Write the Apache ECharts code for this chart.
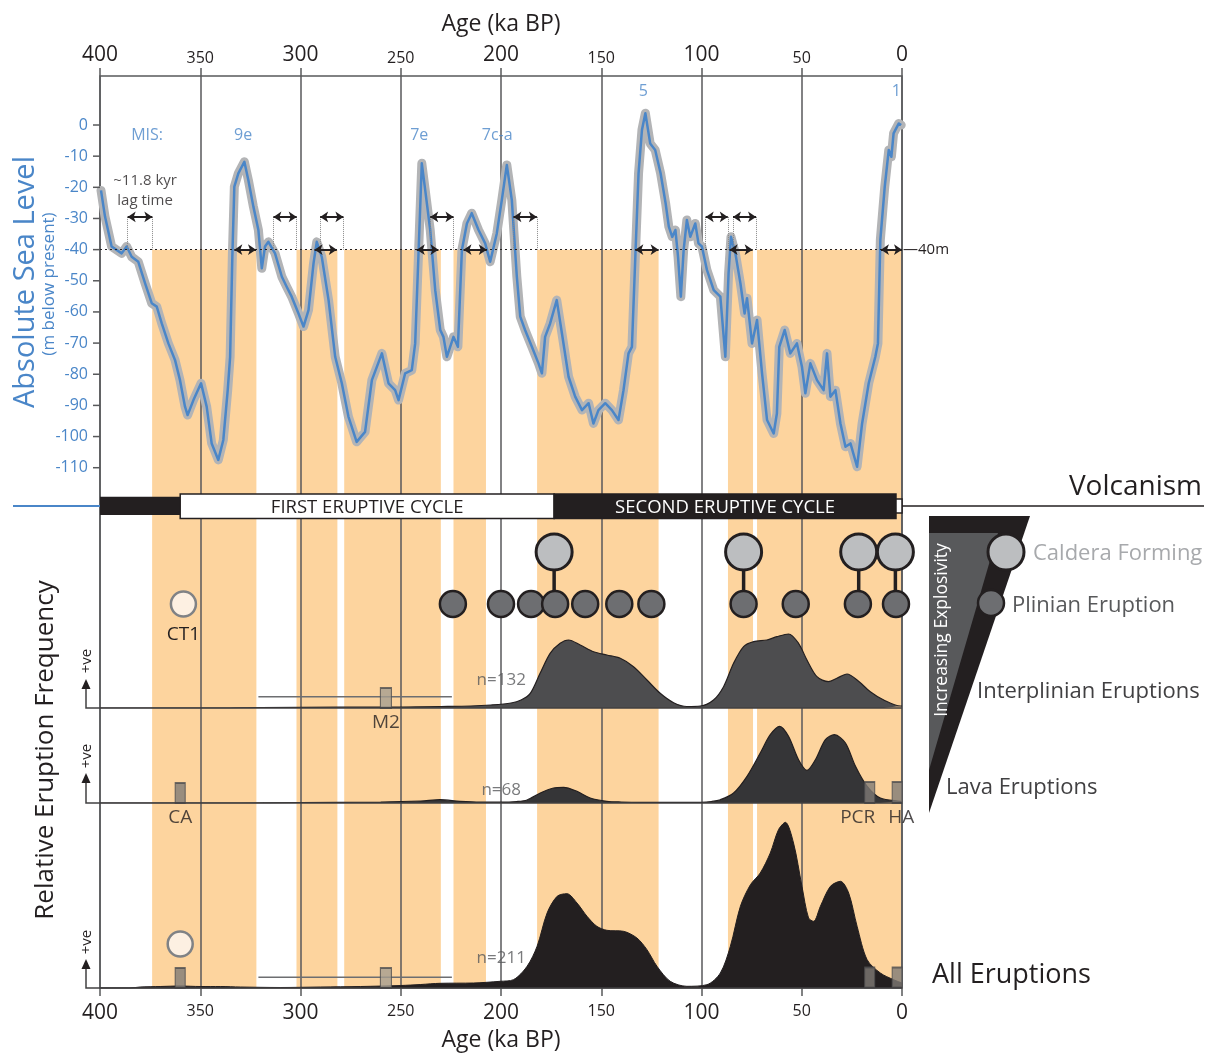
<!DOCTYPE html>
<html><head><meta charset="utf-8">
<script src="https://cdn.jsdelivr.net/npm/echarts@6/dist/echarts.min.js"></script>
<style>html,body{margin:0;padding:0;background:#fff}#c{width:1214px;height:1053px}</style>
</head><body><div id="c"></div>
<script>
// ---------- DATA ----------
const ageTicks = [0, 50, 100, 150, 200, 250, 300, 350, 400];
const seaTicks = [0, -10, -20, -30, -40, -50, -60, -70, -80, -90, -100, -110];

const seaAge = [399.5,397.5,394.2,389.2,386.7,384.2,380.9,377.5,374.2,371.7,369.2,365.9,362.6,360.1,357.6,356.3,353.4,349.6,346.8,344.3,341,338.5,336.3,335.1,334,333,331,328,326,323.5,321,319.3,317.7,316,312.7,309.3,306.9,304.4,301,298.5,296,293.5,291.9,289.4,286,282.7,279.4,276.1,272,267.8,264.4,259.4,256.1,252.8,251.1,247.8,244.5,242.8,241.2,239.5,237.8,235.3,232.8,230.3,228.7,227,223.7,221.5,219.5,217,214.6,211.2,207.9,205.4,202.1,199.6,197.1,194.6,192.1,190.4,188,184.6,181.3,179.6,178,175.5,172.2,169.6,166.3,163,159.6,156.3,153.9,151.4,148,144.7,141.4,138.9,136.4,134.7,133,131.4,129.7,128,125.6,123.1,120.4,117.9,116.3,114.6,113,111.7,110.3,108.9,107.3,105.6,103.1,101.5,99.8,97.3,93.9,90.6,88.1,86.5,85.3,83.1,80.6,78.5,77.3,74.8,72.3,69.8,67.3,64,62.4,61.2,58.5,55.7,52.4,49.9,48.2,45.7,42.4,39.1,37.4,35.7,33.2,30.7,28.2,25.7,22.4,19.9,16.6,13.3,12,10.8,8.6,6.6,5.3,4.2,1.6,0.4];
const seaLevel = [-21,-29.4,-39,-41.2,-39,-42.3,-43.9,-50.8,-57.2,-58.3,-63.7,-70.1,-75.4,-81.9,-90.4,-93.1,-88.3,-82.9,-90.4,-102.2,-107.5,-101.1,-85.1,-74.4,-42.3,-19.8,-15.5,-11.8,-17.7,-26.2,-33.7,-46,-39,-37.5,-41.2,-48.7,-51.9,-55.1,-60.5,-64.7,-59.4,-44.4,-37.5,-42.3,-56.2,-74.4,-82.9,-93.6,-101.7,-98.5,-81.9,-73.3,-82.9,-85.1,-88.3,-79.7,-78.7,-70.1,-42.3,-12.3,-20.9,-33.7,-53,-65.8,-68,-74.4,-68,-71.2,-40.1,-31.6,-28.3,-33.7,-38,-43.9,-34.8,-24.1,-12.8,-24.1,-48.7,-61.5,-65.8,-71.2,-76.5,-79.7,-68,-63.7,-56.2,-66.9,-80.8,-87.2,-91.5,-89.3,-95.8,-91.5,-89.3,-91.5,-94.7,-85.1,-73.3,-71.2,-42.3,-15.5,-1.6,3.8,-5.9,-8,-15.5,-25.1,-32.6,-35.9,-33.7,-42.3,-55.1,-40.1,-30.5,-35.9,-31.6,-38,-39,-46.5,-53,-55.1,-74.4,-47.6,-35.9,-41.2,-50.8,-60.5,-55.6,-70.1,-62.6,-79.7,-94.7,-99,-92.6,-71.2,-65.8,-73.3,-70.1,-77.6,-86.1,-76.5,-81.9,-85.1,-73.3,-87.2,-85.1,-95.8,-103.3,-102.2,-109.7,-95.8,-82.9,-74.4,-70.1,-36.9,-19.8,-8,-10.2,-2.7,0.5,0];

// low-stand (orange) periods [older, younger] ka
const bandOld   = [374, 302, 278.2, 223.7, 182, 86.8, 72.3];
const bandYoung = [322, 281.6, 230, 207.5, 121.4, 74.3, 0];
// ~11.8 kyr lag arrows
const upperArrowFrom = [386.2, 313.5, 290.2, 235.3, 193.8, 97.9, 84.3];
const upperArrowTo   = [373.9, 301.9, 278.6, 223.7, 182.1, 86.9, 72.8];
const lowerArrowFrom = [333, 293, 242, 218.7, 133, 86, 10.5];
const lowerArrowTo   = [322.2, 281.9, 231.2, 207.1, 121.4, 74.5, 0];
const threshold = -40;
const lagLevel = -29.5;

// MIS labels
const misName = ['MIS:', '9e', '7e', '7c-a', '5', '1'];
const misAge  = [376.5, 328.6, 240.8, 201.9, 129, 2.8];
const misLev  = [-3.2, -3.2, -3.2, -3.2, 10.9, 10.9];

// eruption frequency density curves (relative)
const dens132 = [[400,0],[340,0],[320,0.5],[280,0.8],[250,1],[230,1.5],[215,2],[205,3],[195,5],[190,8],[185.4,14.7],[180.5,34.7],[175.5,54.7],[170.5,64.7],[166.3,68],[160.5,63],[153.8,56.3],[147.2,53],[140.5,49.7],[133.9,41.3],[127.2,28],[120.6,14.7],[113.9,5.3],[107.3,1.5],[100.6,2],[94,8],[89,21.3],[84,44.7],[79,61.3],[74,66.3],[67.4,68],[62.4,71.3],[56.6,74],[51.6,64.7],[47.4,48],[42.4,31.3],[36.7,26.3],[32.5,29.7],[27.4,34],[22.4,28],[15.8,16.3],[9.1,8],[0.8,2],[0,2]];
const dens68 = [[400,0],[330,0],[300,0.5],[260,1],[240,2],[230.4,3.3],[220.4,1.7],[210,1],[200.4,1],[192,1.5],[187,3],[180.4,10],[173.8,15],[168.8,15.7],[162.1,11.7],[155.5,5],[147.2,1.7],[140,1],[130,0.7],[100,0.7],[95,1.5],[90.6,3.3],[84,10],[77.3,26.7],[70.7,50],[65.7,68.3],[61,76.7],[56.6,66.7],[51.6,43.3],[47.4,32.7],[43.2,43.3],[38.2,63.3],[33.7,68.3],[28.2,60],[23.2,36.7],[17.4,16.7],[10.8,5],[0.8,1.7],[0,1.5]];
const dens211 = [[400,0],[385,0],[380,1],[370,1.5],[360,2],[350,1.5],[340,1.5],[330,1],[310,0.5],[290,1],[270,1.5],[250,2.5],[240,3.5],[230.4,4.7],[213.7,5],[200.4,6.7],[193.8,8.3],[187,21.7],[182,41.7],[177,75],[172,91.7],[167.1,94.3],[162.1,85],[157.1,71.7],[152.2,61.7],[147.2,57.7],[138.9,56.7],[132.2,50],[127.2,38.3],[122.2,21.7],[115.6,6.7],[107.3,1.7],[97.3,3.3],[90.6,15],[85.6,41.7],[80.6,81.7],[75.6,103.3],[70.7,115],[65.7,135],[61.6,158.3],[58.2,165.7],[54.1,145],[49.9,101.7],[46.6,70],[44.1,66.7],[40.7,81.7],[35.7,101.7],[30.7,106.7],[26.6,95],[22.4,61.7],[17.4,28.3],[10.8,15],[4.2,8.3],[0,5]];

// eruptions
const plinianAge = [224, 200, 185, 173, 158, 141, 125, 79, 53, 22, 3];
const calderaAge = [173.5, 79, 21.6, 3.3];
const ct1Age = [358.4, 360];
const m2Age = 257.4, m2Old = 321, m2Young = 224.5;
const caAge = 360, pcrAge = 16.1, haAge = 2.4;

// eruptive cycles
const cycleStart = [400, 360, 173.5, 3];
const cycleEnd   = [360, 173.5, 3, 0];
const cycleKind  = [0, 1, 2, 3];
const cycleLabel = ['', 'FIRST ERUPTIVE CYCLE', 'SECOND ERUPTIVE CYCLE', ''];

// ---------- STYLE ----------
const FONT = 'Open Sans';
const BLUE = '#4a86c8';
const DARK = '#231f20';
const GRID = '#58595b';
const Y_MIN = -277, Y_MAX = 15.73;
const P1 = 104, C1 = 156; // plinian / caldera rows in panel 1
const FRAME_LEFT = 100;

const chart = echarts.init(document.getElementById('c'), null, {renderer: 'canvas'});

const hiddenX = (g) => ({gridIndex: g, type: 'value', inverse: true, min: 0, max: 400, show: false});
const hiddenY = (g, max) => ({gridIndex: g, type: 'value', min: 0, max: max, show: false});
const labelRich = {
  b: {fontSize: 21, color: DARK, fontFamily: FONT},
  s: {fontSize: 16, color: DARK, fontFamily: FONT}
};
const ageAxis = (pos) => ({
  gridIndex: 0, type: 'value', position: pos, inverse: true, min: 0, max: 400, interval: 50, z: 1,
  axisLine: {show: false, onZero: false},
  axisTick: {show: true, inside: false, length: 8, customValues: ageTicks, lineStyle: {color: GRID, width: 1.5}},
  axisLabel: {customValues: ageTicks, margin: pos === 'top' ? 10 : 15,
    formatter: v => (v % 100 === 0 ? '{b|' + v + '}' : '{s|' + v + '}'), rich: labelRich},
  splitLine: {show: pos === 'top', lineStyle: {color: GRID, width: 1.5}},
  name: 'Age (ka BP)', nameLocation: 'middle', nameGap: pos === 'top' ? 40 : 41,
  nameTextStyle: {fontSize: 23, color: DARK, fontFamily: FONT}
});

const seaData = seaAge.map((a, i) => [a, seaLevel[i]]);

const markLineData = [];
markLineData.push([
  {coord: [400, threshold], symbol: 'none', lineStyle: {type: [2, 3], color: DARK, width: 1},
   label: {show: true, position: 'end', formatter: '\u201440m', distance: 1, fontSize: 15, color: DARK, fontFamily: FONT}},
  {coord: [0, threshold], symbol: 'none'}
]);
upperArrowFrom.forEach((a, i) => {
  [a, upperArrowTo[i]].forEach(x => markLineData.push([
    {coord: [x, lagLevel], symbol: 'none', lineStyle: {type: 'dotted', color: '#8a8a8a', width: 1}},
    {coord: [x, threshold], symbol: 'none'}
  ]));
  markLineData.push([
    {coord: [a, lagLevel], symbol: 'arrow', lineStyle: {type: 'solid', color: DARK, width: 2}},
    {coord: [upperArrowTo[i], lagLevel], symbol: 'arrow'}
  ]);
});
lowerArrowFrom.forEach((a, i) => {
  markLineData.push([
    {coord: [a, threshold], symbol: 'arrow', lineStyle: {type: 'solid', color: DARK, width: 2}},
    {coord: [lowerArrowTo[i], threshold], symbol: 'arrow'}
  ]);
});

const rectStyle = (fill) => ({color: fill, borderColor: '#4d4d4f', borderWidth: 1.5});
const markerLabel = (txt, off) => ({show: true, position: 'bottom', distance: 4, formatter: txt,
  fontSize: 19, color: DARK, fontFamily: FONT, offset: off || [0, 0]});

const gridBase = {left: 100, width: 802, outerBoundsMode: 'none', containLabel: false};
const option = {
  animation: false,
  backgroundColor: '#fff',
  textStyle: {fontFamily: FONT},
  grid: [
    Object.assign({}, gridBase, {top: 76, height: 912, show: true, borderColor: GRID, borderWidth: 1.5, backgroundColor: 'transparent', z: 1}),
    Object.assign({}, gridBase, {top: 490, height: 218}),
    Object.assign({}, gridBase, {top: 710, height: 93}),
    Object.assign({}, gridBase, {top: 810, height: 178})
  ],
  xAxis: [ageAxis('top'), ageAxis('bottom'), hiddenX(1), hiddenX(2), hiddenX(3)],
  yAxis: [
    {gridIndex: 0, type: 'value', min: Y_MIN, max: Y_MAX, show: false},
    hiddenY(1, 218), hiddenY(2, 93), hiddenY(3, 178)
  ],
  series: [
    {type: 'line', name: 'bands', xAxisIndex: 0, yAxisIndex: 0, data: [], z: 0,
     markArea: {silent: true, z: 0, itemStyle: {color: '#fdd49e'},
       data: bandOld.map((o, i) => [{xAxis: o, yAxis: threshold}, {xAxis: bandYoung[i], yAxis: Y_MIN}])}},
    {type: 'line', name: 'seaErr', xAxisIndex: 0, yAxisIndex: 0, data: seaData, showSymbol: false, z: 2,
     lineStyle: {color: '#b3b4b6', width: 9, cap: 'round', join: 'round'}},
    {type: 'line', name: 'sea', xAxisIndex: 0, yAxisIndex: 0, data: seaData, showSymbol: false, z: 3,
     lineStyle: {color: BLUE, width: 2.5, join: 'round'},
     markLine: {silent: true, z: 5, symbolSize: [8, 8], label: {show: false}, data: markLineData}},
    {type: 'scatter', name: 'mis', xAxisIndex: 0, yAxisIndex: 0, symbolSize: 0, z: 6,
     data: misName.map((n, i) => ({name: n, value: [misAge[i], misLev[i]]})),
     label: {show: true, position: 'inside', formatter: p => p.name, color: BLUE, fontSize: 16, fontFamily: FONT}},
    {type: 'scatter', name: 'lag', xAxisIndex: 0, yAxisIndex: 0, symbolSize: 0, z: 6,
     data: [{name: '~11.8 kyr\nlag time', value: [377.5, -21]}],
     label: {show: true, position: 'inside', formatter: p => p.name, color: DARK, fontSize: 15, lineHeight: 20, fontFamily: FONT}},

    // density curves
    {type: 'line', name: 'n132', xAxisIndex: 2, yAxisIndex: 1, data: dens132, showSymbol: false, smooth: 0.3, z: 3,
     lineStyle: {color: DARK, width: 1.2}, areaStyle: {color: '#4d4d4f', opacity: 1}},
    {type: 'line', name: 'n68', xAxisIndex: 3, yAxisIndex: 2, data: dens68, showSymbol: false, smooth: 0.3, z: 3,
     lineStyle: {color: DARK, width: 1.2}, areaStyle: {color: '#353537', opacity: 1}},
    {type: 'line', name: 'n211', xAxisIndex: 4, yAxisIndex: 3, data: dens211, showSymbol: false, smooth: 0.3, z: 3,
     lineStyle: {color: DARK, width: 1}, areaStyle: {color: DARK, opacity: 1}},
    {type: 'scatter', name: 'nlab1', xAxisIndex: 2, yAxisIndex: 1, symbolSize: 0, z: 6,
     data: [{name: 'n=132', value: [199.9, 28]}],
     label: {show: true, position: 'inside', formatter: p => p.name, color: GRID, fontSize: 17, fontFamily: FONT}},
    {type: 'scatter', name: 'nlab2', xAxisIndex: 3, yAxisIndex: 2, symbolSize: 0, z: 6,
     data: [{name: 'n=68', value: [199.9, 13]}],
     label: {show: true, position: 'inside', formatter: p => p.name, color: GRID, fontSize: 17, fontFamily: FONT}},
    {type: 'scatter', name: 'nlab3', xAxisIndex: 4, yAxisIndex: 3, symbolSize: 0, z: 6,
     data: [{name: 'n=211', value: [199.9, 30]}],
     label: {show: true, position: 'inside', formatter: p => p.name, color: GRID, fontSize: 17, fontFamily: FONT}},

    // eruptive cycles bar
    {type: 'custom', name: 'cycles', xAxisIndex: 2, yAxisIndex: 1, z: 7, encode: {x: [0, 1], y: 2},
     data: cycleStart.map((s, i) => [s, cycleEnd[i], cycleKind[i]]),
     renderItem: (params, api) => {
       const kind = api.value(2);
       const ranges = [[193, 211.3], [189.5, 214], [189.5, 214], [195, 209]];
       const r = ranges[kind];
       const p1 = api.coord([api.value(0), r[1]]);
       const p2 = api.coord([api.value(1), r[0]]);
       const children = [{type: 'rect', shape: {x: p1[0], y: p1[1], width: p2[0] - p1[0], height: p2[1] - p1[1]},
         style: {fill: kind % 2 === 0 ? DARK : '#fff', stroke: kind === 0 ? null : DARK, lineWidth: kind === 0 ? 0 : 1.5}}];
       const lbl = cycleLabel[params.dataIndex];
       if (lbl) children.push({type: 'text', style: {text: lbl, x: (p1[0] + p2[0]) / 2, y: (p1[1] + p2[1]) / 2 + 1,
         align: 'center', verticalAlign: 'middle', fill: kind === 2 ? '#fff' : DARK, fontSize: 18.5, fontFamily: FONT}});
       return {type: 'group', children: children};
     }},

    // M2 age uncertainty bars
    {type: 'line', name: 'm2err1', xAxisIndex: 2, yAxisIndex: 1, data: [[m2Old, 11.3], [m2Young, 11.3]], showSymbol: false, z: 6,
     lineStyle: {color: '#6d6e71', width: 1.5}},
    {type: 'line', name: 'm2err3', xAxisIndex: 4, yAxisIndex: 3, data: [[m2Old, 10.7], [m2Young, 10.7]], showSymbol: false, z: 6,
     lineStyle: {color: '#6d6e71', width: 1.5}},

    // caldera-plinian connectors
    {type: 'custom', name: 'conn', xAxisIndex: 2, yAxisIndex: 1, z: 7, encode: {x: 0, y: 1},
     data: calderaAge.map(a => [a, P1]),
     renderItem: (params, api) => {
       const a = api.value(0);
       const q1 = api.coord([a, P1]), q2 = api.coord([a, C1]);
       return {type: 'line', shape: {x1: q1[0], y1: q1[1], x2: q2[0], y2: q2[1]}, style: {stroke: DARK, lineWidth: 3.5}};
     }},
    {type: 'scatter', name: 'plinian', xAxisIndex: 2, yAxisIndex: 1, z: 8, symbolSize: 26,
     data: plinianAge.map(a => [a, P1]),
     itemStyle: {color: '#6d6e71', borderColor: DARK, borderWidth: 2.5, opacity: 1}},
    {type: 'scatter', name: 'caldera', xAxisIndex: 2, yAxisIndex: 1, z: 8, symbolSize: 36,
     data: calderaAge.map(a => [a, C1]),
     itemStyle: {color: '#bcbec0', borderColor: DARK, borderWidth: 3, opacity: 1}},
    {type: 'scatter', name: 'ct1', xAxisIndex: 2, yAxisIndex: 1, z: 8, symbolSize: 25,
     data: [{value: [ct1Age[0], P1], label: markerLabel('CT1', [0, 3])}],
     itemStyle: {color: '#fdf0e2', borderColor: '#808285', borderWidth: 2.5, opacity: 1}},
    {type: 'scatter', name: 'm2a', xAxisIndex: 2, yAxisIndex: 1, z: 8, symbol: 'rect', symbolSize: [11, 20],
     data: [{value: [m2Age, 10], label: markerLabel('M2', [0, 0])}], itemStyle: rectStyle('#a59d90')},
    {type: 'scatter', name: 'lava2', xAxisIndex: 3, yAxisIndex: 2, z: 8, symbol: 'rect', symbolSize: [10, 20],
     data: [{value: [caAge, 10], label: markerLabel('CA')},
            {value: [pcrAge, 10.5], symbolSize: [10, 21], label: markerLabel('PCR', [-12, 0])},
            {value: [haAge, 10.5], symbolSize: [10, 21], label: markerLabel('HA', [4, 0])}],
     itemStyle: rectStyle('#807a76')},
    {type: 'scatter', name: 'ct1b', xAxisIndex: 4, yAxisIndex: 3, z: 8, symbolSize: 25,
     data: [[ct1Age[1], 44]],
     itemStyle: {color: '#fdf0e2', borderColor: '#808285', borderWidth: 2.5, opacity: 1}},
    {type: 'scatter', name: 'rect3', xAxisIndex: 4, yAxisIndex: 3, z: 8, symbol: 'rect', symbolSize: [10, 20],
     data: [[caAge, 10], [pcrAge, 10.5], [haAge, 10.5]], itemStyle: rectStyle('#807a76')},
    {type: 'scatter', name: 'm2c', xAxisIndex: 4, yAxisIndex: 3, z: 8, symbol: 'rect', symbolSize: [11, 20],
     data: [[m2Age, 10]], itemStyle: rectStyle('#a59d90')}
  ],
  graphic: [
    // separators
    {type: 'line', shape: {x1: 13, y1: 506, x2: 100, y2: 506}, style: {stroke: BLUE, lineWidth: 2}, z: 10},
    {type: 'line', shape: {x1: 902, y1: 506, x2: 1204, y2: 506}, style: {stroke: DARK, lineWidth: 1.5}, z: 10},
    {type: 'text', x: 1202, y: 487, style: {text: 'Volcanism', align: 'right', verticalAlign: 'middle', fontSize: 28, fontFamily: FONT, fill: DARK}, z: 10},
    // y titles
    {type: 'text', x: 26, y: 282, rotation: Math.PI / 2, style: {text: 'Absolute Sea Level', align: 'center', verticalAlign: 'middle', fontSize: 29, fontFamily: FONT, fill: BLUE}, z: 10},
    {type: 'text', x: 49, y: 284, rotation: Math.PI / 2, style: {text: '(m below present)', align: 'center', verticalAlign: 'middle', fontSize: 17, fontFamily: FONT, fill: BLUE}, z: 10},
    {type: 'text', x: 46, y: 750, rotation: Math.PI / 2, style: {text: 'Relative Eruption Frequency', align: 'center', verticalAlign: 'middle', fontSize: 26, fontFamily: FONT, fill: DARK}, z: 10},
    // small +ve axes and baselines
    ...[[708, 679, 661], [803, 773, 756], [988, 959, 942]].flatMap(([b, tip, ty]) => [
      {type: 'polyline', shape: {points: [[86, tip + 8], [86, b], [902, b]]}, style: {stroke: '#414042', lineWidth: 1.5, fill: null}, z: 9},
      {type: 'polygon', shape: {points: [[86, tip], [81.5, tip + 10], [90.5, tip + 10]]}, style: {fill: DARK}, z: 9},
      {type: 'text', x: 87, y: ty, rotation: Math.PI / 2, style: {text: '+ve', align: 'center', verticalAlign: 'middle', fontSize: 15, fontFamily: FONT, fill: DARK}, z: 9}
    ]),
    // legend triangle
    {type: 'polygon', shape: {points: [[929, 516], [1030, 516], [929, 813]]}, style: {fill: DARK}, z: 10},
    {type: 'polygon', shape: {points: [[929, 533], [998, 533], [929, 770]]}, style: {fill: '#58595b'}, z: 10},
    {type: 'text', x: 942, y: 630, rotation: Math.PI / 2, style: {text: 'Increasing Explosivity', align: 'center', verticalAlign: 'middle', fontSize: 17.5, fontFamily: FONT, fill: '#fff'}, z: 11},
    {type: 'circle', shape: {cx: 1006, cy: 552, r: 18}, style: {fill: '#bcbec0', stroke: DARK, lineWidth: 3}, z: 11},
    {type: 'circle', shape: {cx: 991, cy: 603, r: 13}, style: {fill: '#6d6e71', stroke: DARK, lineWidth: 2.5}, z: 11},
    {type: 'text', x: 1033, y: 554, style: {text: 'Caldera Forming', verticalAlign: 'middle', fontSize: 22, fontFamily: FONT, fill: '#a7a9ac'}, z: 11},
    {type: 'text', x: 1012, y: 606, style: {text: 'Plinian Eruption', verticalAlign: 'middle', fontSize: 22, fontFamily: FONT, fill: '#58595b'}, z: 11},
    {type: 'text', x: 977, y: 692, style: {text: 'Interplinian Eruptions', verticalAlign: 'middle', fontSize: 22, fontFamily: FONT, fill: '#414042'}, z: 11},
    {type: 'text', x: 946, y: 788, style: {text: 'Lava Eruptions', verticalAlign: 'middle', fontSize: 22, fontFamily: FONT, fill: '#414042'}, z: 11},
    {type: 'text', x: 932, y: 975, style: {text: 'All Eruptions', verticalAlign: 'middle', fontSize: 27, fontFamily: FONT, fill: DARK}, z: 11}
  ]
};
chart.setOption(option);

// sea-level axis ticks and labels: y from the axis scale, x at the left frame
const axisEls = [];
seaTicks.forEach((v, i) => {
  const y = chart.convertToPixel({yAxisIndex: 0}, v);
  axisEls.push({type: 'line', id: 'seaTick' + i, shape: {x1: FRAME_LEFT - 7, y1: y, x2: FRAME_LEFT, y2: y},
                style: {stroke: GRID, lineWidth: 1.5}, z: 12});
  axisEls.push({type: 'text', id: 'seaLab' + i, x: FRAME_LEFT - 12, y: y, z: 12,
                style: {text: String(v), align: 'right', verticalAlign: 'middle', fontSize: 16, fontFamily: FONT, fill: BLUE}});
});
chart.setOption({graphic: axisEls});
</script>
</body></html>
